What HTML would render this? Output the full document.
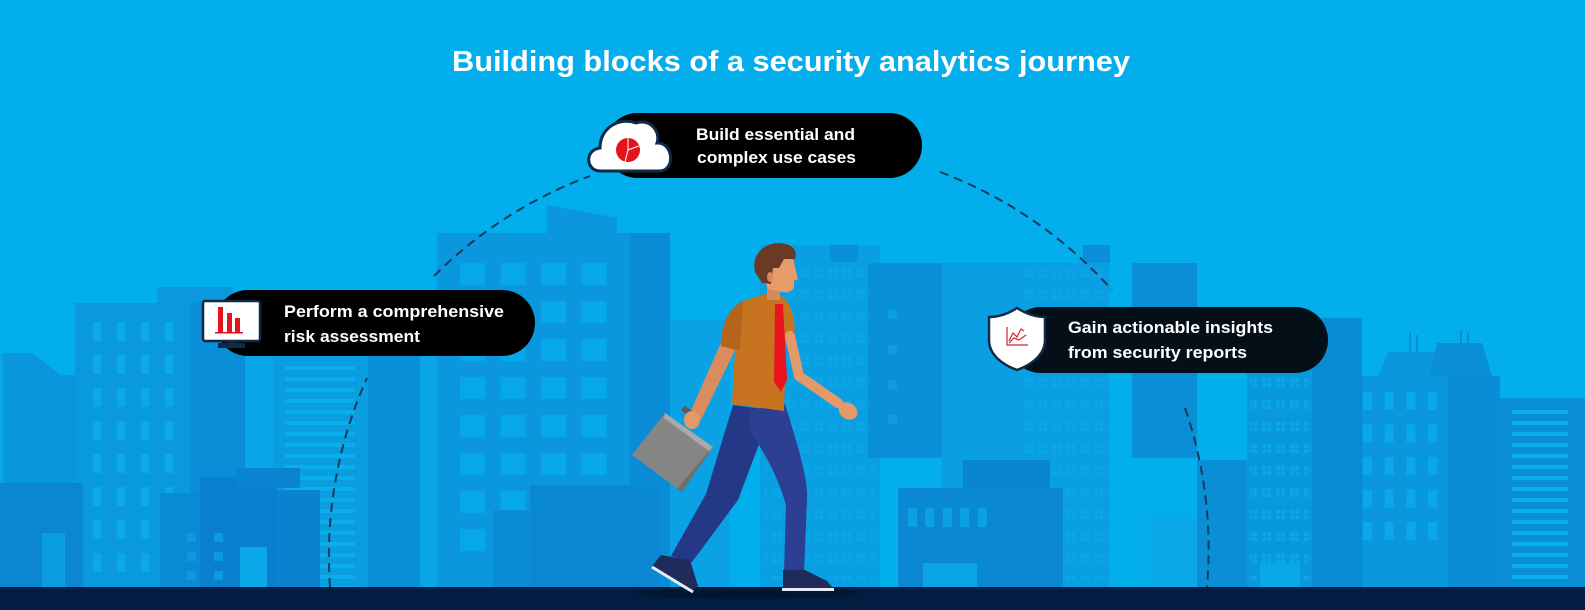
<!DOCTYPE html>
<html><head><meta charset="utf-8"><style>
html,body{margin:0;padding:0;background:#03aeec;}
svg{display:block;}
text{font-family:"Liberation Sans",Arial,sans-serif;font-weight:700;fill:#fff;}
</style></head><body>
<svg width="1585" height="610" viewBox="0 0 1585 610" xmlns="http://www.w3.org/2000/svg">
<defs>
<pattern id="g2" x="0" y="0" width="14" height="22" patternUnits="userSpaceOnUse">
<rect x="2" y="4" width="4" height="4" fill="#0aa7e8"/><rect x="7" y="4" width="4" height="4" fill="#0aa7e8"/>
<rect x="2" y="9" width="4" height="4" fill="#0aa7e8"/><rect x="7" y="9" width="4" height="4" fill="#0aa7e8"/>
</pattern>
<pattern id="st" x="0" y="0" width="10" height="11" patternUnits="userSpaceOnUse">
<rect x="0" y="3" width="10" height="4" fill="#0aaeed"/>
</pattern>
<pattern id="win5" x="460" y="263" width="40.5" height="38" patternUnits="userSpaceOnUse">
<rect x="0" y="0" width="25" height="22" fill="#07a8ea"/>
</pattern>
<pattern id="win2" x="93" y="322" width="24" height="33" patternUnits="userSpaceOnUse">
<rect x="0" y="0" width="8" height="19" fill="#09a9ea"/>
</pattern>
<pattern id="win18" x="1363" y="392" width="21.7" height="32.5" patternUnits="userSpaceOnUse">
<rect x="0" y="0" width="9" height="18" fill="#0aa8ea"/>
</pattern>
</defs>

<rect width="1585" height="610" fill="#03aeec"/>

<!-- LEFT buildings -->
<polygon points="0,353 33,353 60,375 75,375 75,587 0,587" fill="#0a96dc"/>
<rect x="0" y="353" width="3" height="234" fill="#0aa6e6"/>
<rect x="75" y="303" width="115" height="284" fill="#0a98de"/>
<rect x="157" y="287" width="76" height="20" fill="#0a98de"/>
<rect x="190" y="303" width="55" height="284" fill="#0a8ed8"/>
<rect x="93" y="322" width="80" height="258" fill="url(#win2)"/>
<rect x="245" y="356" width="28" height="231" fill="#08a6e8"/>
<rect x="273" y="356" width="95" height="231" fill="#0a9ee1"/>
<rect x="285" y="362" width="70" height="225" fill="url(#st)"/>
<rect x="368" y="356" width="62" height="231" fill="#0a90d8"/>
<rect x="0" y="483" width="83" height="104" fill="#0a86d2"/>
<rect x="42" y="533" width="23" height="54" fill="#0a9de0"/>
<rect x="160" y="493" width="40" height="94" fill="#0a8ad4"/>
<rect x="200" y="477" width="77" height="110" fill="#0a7fcf"/>
<rect x="237" y="468" width="63" height="20" fill="#0a84d0"/>
<rect x="277" y="490" width="43" height="97" fill="#0a82d0"/>
<rect x="187" y="533" width="9" height="9" fill="#0a9ae0"/><rect x="214" y="533" width="9" height="9" fill="#0a9ae0"/>
<rect x="187" y="552" width="9" height="9" fill="#0a9ae0"/><rect x="214" y="552" width="9" height="9" fill="#0a9ae0"/>
<rect x="187" y="571" width="9" height="9" fill="#0a9ae0"/><rect x="214" y="571" width="9" height="9" fill="#0a9ae0"/>
<rect x="240" y="547" width="27" height="40" fill="#0aa8e8"/>

<!-- CENTER buildings -->
<rect x="420" y="300" width="17" height="287" fill="#09a5e6"/>
<rect x="437" y="233" width="193" height="354" fill="#0a97dd"/>
<polygon points="547,205 612,217 617,217 617,233 547,233" fill="#0a97dd"/>
<rect x="630" y="233" width="40" height="354" fill="#0a8bd5"/>
<rect x="460" y="263" width="147" height="290" fill="url(#win5)"/>
<rect x="670" y="320" width="60" height="267" fill="#0aa2e4"/>
<rect x="760" y="245" width="120" height="342" fill="#0a9fe2"/>
<rect x="764" y="260" width="110" height="320" fill="url(#g2)"/>
<rect x="830" y="245" width="28" height="17" fill="#0a8fd8"/>
<rect x="868" y="263" width="74" height="195" fill="#0a90d8"/>
<rect x="888" y="310" width="9" height="9" fill="#0a9de0"/><rect x="888" y="345" width="9" height="9" fill="#0a9de0"/>
<rect x="888" y="380" width="9" height="9" fill="#0a9de0"/><rect x="888" y="415" width="9" height="9" fill="#0a9de0"/>
<rect x="942" y="263" width="168" height="324" fill="#0a9fe2"/>
<rect x="1020" y="270" width="90" height="310" fill="url(#g2)"/>
<rect x="1083" y="245" width="27" height="18" fill="#0a8fd8"/>
<rect x="530" y="485" width="130" height="102" fill="#0a88d3"/>
<rect x="493" y="510" width="37" height="77" fill="#0a8dd6"/>
<rect x="898" y="488" width="165" height="99" fill="#0a88d4"/>
<rect x="963" y="460" width="87" height="30" fill="#0a85d2"/>
<rect x="908" y="508" width="9" height="19" fill="#0aa0e2"/><rect x="925" y="508" width="9" height="19" fill="#0aa0e2"/>
<rect x="943" y="508" width="9" height="19" fill="#0aa0e2"/><rect x="960" y="508" width="9" height="19" fill="#0aa0e2"/>
<rect x="978" y="508" width="9" height="19" fill="#0aa0e2"/>
<rect x="923" y="563" width="54" height="24" fill="#0aa3e5"/>

<!-- RIGHT buildings -->
<rect x="1132" y="263" width="65" height="195" fill="#0a8fd7"/>
<rect x="1150" y="515" width="47" height="72" fill="#0aa8e8"/>
<rect x="1197" y="460" width="50" height="127" fill="#0a8fd7"/>
<rect x="1247" y="355" width="65" height="232" fill="#0a98dd"/>
<rect x="1250" y="370" width="60" height="210" fill="url(#g2)"/>
<rect x="1260" y="563" width="40" height="24" fill="#0aa8e8"/>
<rect x="1312" y="318" width="50" height="269" fill="#0a8ad4"/>
<line x1="1410" y1="332" x2="1410" y2="352" stroke="#0a8fd6" stroke-width="2"/>
<line x1="1417" y1="335" x2="1417" y2="352" stroke="#0a8fd6" stroke-width="2"/>
<line x1="1461" y1="330" x2="1461" y2="345" stroke="#0a8fd6" stroke-width="2"/>
<line x1="1468" y1="333" x2="1468" y2="345" stroke="#0a8fd6" stroke-width="2"/>
<polygon points="1378,376 1388,352 1435,352 1447,376" fill="#0a97dd"/>
<polygon points="1430,376 1437,343 1482,343 1492,376" fill="#0a8fd6"/>
<rect x="1362" y="376" width="86" height="211" fill="#0a97dd"/>
<rect x="1448" y="376" width="52" height="211" fill="#0a8dd6"/>
<rect x="1363" y="392" width="80" height="150" fill="url(#win18)"/>
<rect x="1500" y="398" width="85" height="189" fill="#0a8fd7"/>
<rect x="1512" y="408" width="56" height="175" fill="url(#st)"/>

<!-- ground -->
<rect x="0" y="587" width="1585" height="23" fill="#021d42"/>
<ellipse cx="748" cy="593" rx="112" ry="6" fill="#011633"/>

<!-- dashed arc segments -->
<g fill="none" stroke="#16395f" stroke-width="2" stroke-dasharray="9 6">
<path d="M330,587 A435 435 0 0 1 367,378"/>
<path d="M434,276 A435 435 0 0 1 590,176"/>
<path d="M940,172 A435 435 0 0 1 1112,290"/>
<path d="M1185,408 A435 435 0 0 1 1207,587"/>
</g>

<!-- man -->
<g>
<polygon points="723,338 738,344 701,420 689,415" fill="#d98d5e"/>
<polygon points="665,413 713,447 682,492 632,455" fill="#858585"/>
<polygon points="665,413 713,447 710,452 664,418" fill="#a9a9a9"/>
<polygon points="713,447 682,492 677,489 709,451" fill="#6e6e6e"/>
<rect x="681" y="410" width="18" height="6" rx="2" transform="rotate(35 690 413)" fill="#5c5c5c"/>
<ellipse cx="692" cy="420" rx="8" ry="9" fill="#e39a68"/>
<path d="M733,405 L772,410 L738,500 L692,562 L671,556 L706,494 Z" fill="#243888"/>
<path d="M750,410 L785,404 C796,440 809,480 807,500 L804,573 L784,573 L786,505 C776,470 760,447 750,430 Z" fill="#2c3f92"/>
<path d="M661,555 L690,560 L698,586 L692,592 L652,566 Z" fill="#1f2b5a"/>
<line x1="652" y1="567" x2="693" y2="592" stroke="#e8eef5" stroke-width="3"/>
<path d="M783,570 L805,570 L827,581 L833,588 L783,589 Z" fill="#1f2b5a"/>
<rect x="782" y="588" width="52" height="3" fill="#e8eef5"/>
<path d="M765,294 L781,296 C789,300 794,312 795,332 L786,340 L784,411 L732,404 L735,350 L721,346 C721,326 728,308 743,301 Z" fill="#c8731f"/>
<path d="M721,346 C721,326 728,308 743,301 L740,350 Z" fill="#b5651b"/>
<path d="M775,304 L783,304 L787,380 L781,392 L774,382 Z" fill="#e8161c"/>
<polyline points="790,336 799,376 838,403" fill="none" stroke="#e39a68" stroke-width="10" stroke-linecap="round" stroke-linejoin="round"/>
<ellipse cx="848" cy="411" rx="10" ry="8" transform="rotate(35 848 411)" fill="#e39a68"/>
<rect x="767" y="284" width="13" height="16" fill="#d48a5a"/>
<path d="M766,262 L793,258 C795,266 796,272 798,279 L794,281 L794,288 C790,293 784,293 779,291 L770,290 C764,284 762,274 766,262 Z" fill="#e79b6b"/>
<path d="M755,272 C751,254 764,243 780,243 C793,244 798,251 795,259 L784,259 L779,268 L773,268 L771,284 L762,283 Z" fill="#6b3a26"/>
<ellipse cx="770" cy="277" rx="3" ry="5" fill="#d48a5a"/>
</g>

<!-- pills -->
<rect x="605" y="113" width="317" height="65" rx="32.5" fill="#000"/>
<rect x="215" y="290" width="320" height="66" rx="33" fill="#000"/>
<rect x="1008" y="307" width="320" height="66" rx="33" fill="#050f18"/>

<!-- cloud icon -->
<path d="M600,171 C586,171 584,150 600,148 C600,127 620,117 636,123 C650,118 661,132 657,143 C673,142 676,170 660,171 Z" fill="#fff" stroke="#0e2a47" stroke-width="3"/>
<circle cx="628" cy="150" r="12" fill="#e3141b"/>
<line x1="628" y1="150" x2="628" y2="138" stroke="#fff" stroke-width="1"/>
<line x1="628" y1="150" x2="639" y2="146" stroke="#fff" stroke-width="1"/>
<line x1="628" y1="150" x2="625" y2="162" stroke="#fff" stroke-width="1"/>

<!-- monitor icon -->
<rect x="218" y="343" width="27" height="5" fill="#0e2a47"/>
<rect x="228" y="339" width="7" height="6" fill="#0e2a47"/>
<rect x="203" y="301" width="57" height="40" rx="2" fill="#fff" stroke="#0e2a47" stroke-width="2.5"/>
<rect x="218" y="307" width="5" height="26" fill="#e3141b"/>
<rect x="227" y="313" width="5" height="20" fill="#e3141b"/>
<rect x="235" y="318" width="5" height="15" fill="#e3141b"/>
<rect x="215" y="332" width="28" height="1.5" fill="#e3141b"/>

<!-- shield icon -->
<path d="M1017,308 C1006,315 996,317 989,317 L989,340 C989,355 1003,365 1017,370 C1031,365 1045,355 1045,340 L1045,317 C1038,317 1028,315 1017,308 Z" fill="#fff" stroke="#0e2a47" stroke-width="2.5"/>
<g fill="none" stroke="#d3232a" stroke-width="1.2">
<polyline points="1007,327 1007,345 1028,345"/>
<polyline points="1009,341 1013,333 1017,337 1021,329 1024,331"/>
<polyline points="1009,343 1014,338 1019,340 1026,335"/>
</g>

<!-- text -->
<text x="452" y="71" font-size="29" textLength="678" lengthAdjust="spacingAndGlyphs">Building blocks of a security analytics journey</text>
<text x="696" y="140" font-size="17" textLength="159" lengthAdjust="spacingAndGlyphs">Build essential and</text>
<text x="697" y="163" font-size="17" textLength="159" lengthAdjust="spacingAndGlyphs">complex use cases</text>
<text x="284" y="317" font-size="17" textLength="220" lengthAdjust="spacingAndGlyphs">Perform a comprehensive</text>
<text x="284" y="342" font-size="17" textLength="136" lengthAdjust="spacingAndGlyphs">risk assessment</text>
<text x="1068" y="333" font-size="17" textLength="205" lengthAdjust="spacingAndGlyphs">Gain actionable insights</text>
<text x="1068" y="358" font-size="17" textLength="179" lengthAdjust="spacingAndGlyphs">from security reports</text>
</svg>
</body></html>
